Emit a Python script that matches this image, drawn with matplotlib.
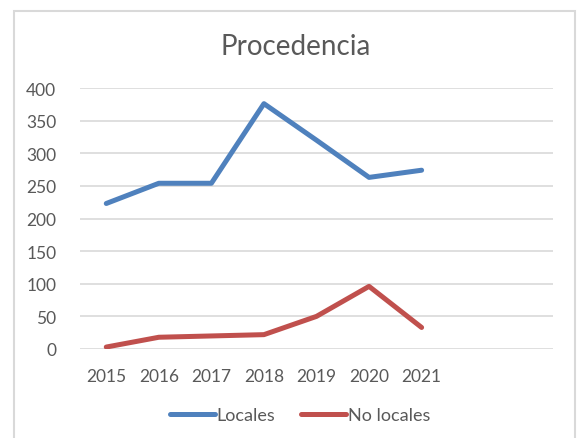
import matplotlib.pyplot as plt
from matplotlib.patches import Rectangle

years = ['2015', '2016', '2017', '2018', '2019', '2020', '2021']
locales = [223, 254, 254, 376, 320, 263, 274]
no_locales = [3, 18, 20, 22, 50, 96, 33]
n_slots = 9  # the category axis leaves room for two empty slots

plt.rcParams['font.family'] = ['Lato', 'DejaVu Sans']

fig = plt.figure(figsize=(5.77, 4.39), dpi=100)
ax = fig.add_axes([80 / 577, 1 - 350 / 439, (553 - 80) / 577, (350 - 89) / 439])

# chart frame
fig.patches.append(Rectangle((14 / 577, -0.05), (575 - 14) / 577, 1.05 - 12 / 439,
                             transform=fig.transFigure, fill=False,
                             edgecolor='#D9D9D9', linewidth=1.5))

x = list(range(len(years)))
ax.plot(x, locales, color='#4F81BD', lw=3.6, label='Locales', solid_capstyle='round')
ax.plot(x, no_locales, color='#C0504D', lw=3.6, label='No locales', solid_capstyle='round')

ax.set_xlim(-0.5, n_slots - 0.5)
ax.set_ylim(0, 400)
ax.set_yticks(range(0, 401, 50))
ax.set_xticks(x)
ax.set_xticklabels(years)
ax.grid(axis='y', color='#D9D9D9', lw=1.2)
ax.set_axisbelow(True)
for s in ['top', 'right', 'left', 'bottom']:
    ax.spines[s].set_visible(False)
ax.tick_params(length=0, colors='#595959', labelsize=12.5)
ax.tick_params(axis='y', pad=17)
ax.tick_params(axis='x', pad=14)

fig.text(296 / 577, 1 - 47 / 439, 'Procedencia', ha='center', va='center',
         fontsize=20, color='#595959')

fig.legend(loc='center', bbox_to_anchor=(300 / 577, 1 - 416 / 439), ncol=2,
           frameon=False, fontsize=13, handlelength=2.5, handletextpad=0.1,
           columnspacing=1.4, labelcolor='#595959')

fig.savefig('out.png', dpi=100)
